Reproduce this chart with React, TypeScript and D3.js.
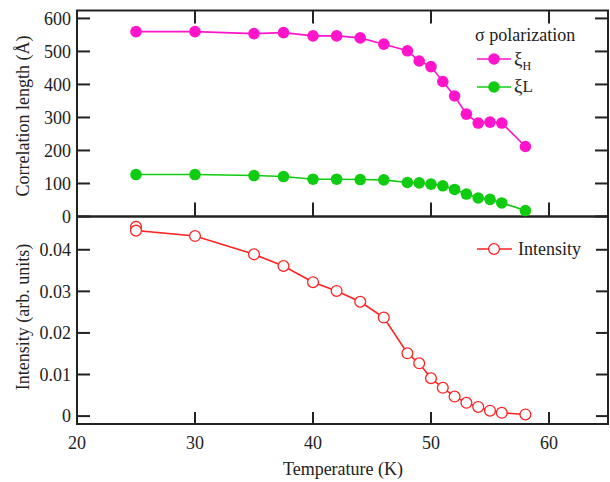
import React from 'react';
import * as d3 from 'd3';

// temperature (K) for the correlation length panel
const temperature = [25, 30, 35, 37.5, 40, 42, 44, 46, 48, 49, 50, 51, 52, 53, 54, 55, 56, 58];
const xiH = [560, 560, 554, 557, 547, 547, 541, 522, 502, 471, 454, 409, 365, 310, 283, 286, 283, 212];
const xiL = [127, 127, 124, 121, 113, 113, 112, 111, 103, 102, 98, 93, 82, 68, 56, 52, 41, 18];

// intensity panel has two points at 25 K
const intensityT = [25, 25, 30, 35, 37.5, 40, 42, 44, 46, 48, 49, 50, 51, 52, 53, 54, 55, 56, 58];
const intensity = [0.0455, 0.0446, 0.0433, 0.0389, 0.0361, 0.0322, 0.0301, 0.0275, 0.0237, 0.0151, 0.0127, 0.0091, 0.0068, 0.0047, 0.0032, 0.0022, 0.0013, 0.0008, 0.0004];

const xTicks = [20, 30, 40, 50, 60];
const corrTicks = [0, 100, 200, 300, 400, 500, 600];
const intTicks = [0, 0.01, 0.02, 0.03, 0.04];
const intTickLabels = ['0', '0.01', '0.02', '0.03', '0.04'];

const PINK = '#ff14cc';
const GREEN = '#10cc10';
const RED = '#ff2222';
const INK = '#222';
const FONT = '"Liberation Serif", "Times New Roman", serif';

const left = 77;
const right = 608;
const top = 10.5;
const mid = 216.5;
const bottom = 424;

const App = () => {
  const x = d3.scaleLinear().domain([20, 65]).range([left, right]);
  const yTop = d3.scaleLinear().domain([0, 624]).range([mid, top]);
  const yBot = d3.scaleLinear().domain([-0.0019, 0.048]).range([bottom, mid]);

  const lineH = d3.line<number>().x((d, i) => x(temperature[i])).y((d) => yTop(d));
  const lineInt = d3.line<number>().x((d, i) => x(intensityT[i])).y((d) => yBot(d));

  const xInner = xTicks.filter((t) => t > 20);

  return (
    <svg width={610} height={482} style={{ position: 'absolute', left: 0, top: 0, background: '#fff' }} fontFamily={FONT}>
      {/* frames */}
      <rect x={left} y={top} width={right - left} height={mid - top} fill="none" stroke={INK} strokeWidth={2} />
      <rect x={left} y={mid} width={right - left} height={bottom - mid} fill="none" stroke={INK} strokeWidth={2} />

      {/* top panel ticks */}
      {corrTicks.map((t) => (
        <g key={'ct' + t}>
          <line x1={left} x2={left + 13} y1={yTop(t)} y2={yTop(t)} stroke={INK} strokeWidth={2} />
          <line x1={right} x2={right - 13} y1={yTop(t)} y2={yTop(t)} stroke={INK} strokeWidth={2} />
          <text x={left - 6} y={yTop(t)} dy="0.35em" textAnchor="end" fontSize={18} fill={INK}>{t}</text>
        </g>
      ))}
      {xInner.map((t) => (
        <g key={'xt' + t}>
          <line x1={x(t)} x2={x(t)} y1={top} y2={top + 13} stroke={INK} strokeWidth={2} />
          <line x1={x(t)} x2={x(t)} y1={mid} y2={mid - 14} stroke={INK} strokeWidth={2} />
          <line x1={x(t)} x2={x(t)} y1={bottom} y2={bottom - 12} stroke={INK} strokeWidth={2} />
        </g>
      ))}

      {/* bottom panel ticks */}
      {intTicks.map((t, i) => (
        <g key={'it' + t}>
          <line x1={left} x2={left + 13} y1={yBot(t)} y2={yBot(t)} stroke={INK} strokeWidth={2} />
          <line x1={right} x2={right - 12} y1={yBot(t)} y2={yBot(t)} stroke={INK} strokeWidth={2} />
          <text x={left - 6} y={yBot(t)} dy="0.35em" textAnchor="end" fontSize={18} fill={INK}>{intTickLabels[i]}</text>
        </g>
      ))}
      {xTicks.map((t) => (
        <text key={'xl' + t} x={x(t)} y={bottom + 25} textAnchor="middle" fontSize={18} fill={INK}>{t}</text>
      ))}

      {/* axis titles */}
      <text transform={`translate(29,116) rotate(-90)`} textAnchor="middle" fontSize={18} fill={INK}>Correlation length (Å)</text>
      <text transform={`translate(29,317) rotate(-90)`} textAnchor="middle" fontSize={18} fill={INK}>Intensity (arb. units)</text>
      <text x={343} y={475} textAnchor="middle" fontSize={18} fill={INK}>Temperature (K)</text>

      {/* correlation lengths */}
      <path d={lineH(xiH) || ''} fill="none" stroke={PINK} strokeWidth={1.6} />
      <path d={lineH(xiL) || ''} fill="none" stroke={GREEN} strokeWidth={1.6} />
      {xiH.map((v, i) => (
        <circle key={'h' + i} cx={x(temperature[i])} cy={yTop(v)} r={5.8} fill={PINK} />
      ))}
      {xiL.map((v, i) => (
        <circle key={'l' + i} cx={x(temperature[i])} cy={yTop(v)} r={5.8} fill={GREEN} />
      ))}

      {/* intensity */}
      <path d={lineInt(intensity) || ''} fill="none" stroke={RED} strokeWidth={1.6} />
      {intensity.map((v, i) => (
        <circle key={'i' + i} cx={x(intensityT[i])} cy={yBot(v)} r={5.4} fill="#fff" stroke={RED} strokeWidth={1.3} />
      ))}

      {/* legends */}
      <text x={475} y={41} fontSize={18} fill={INK}>σ polarization</text>
      <line x1={477} x2={511} y1={59} y2={59} stroke={PINK} strokeWidth={1.6} />
      <circle cx={494} cy={59} r={5.8} fill={PINK} />
      <text x={514} y={65} fontSize={19} fill={INK}>ξ<tspan fontSize={12} dy={5}>H</tspan></text>
      <line x1={477} x2={511} y1={87} y2={87} stroke={GREEN} strokeWidth={1.6} />
      <circle cx={494} cy={87} r={5.8} fill={GREEN} />
      <text x={514} y={92} fontSize={19} fill={INK}>ξ<tspan fontSize={17}>L</tspan></text>

      <line x1={477} x2={512} y1={249} y2={249} stroke={RED} strokeWidth={1.6} />
      <circle cx={494} cy={249} r={5.4} fill="#fff" stroke={RED} strokeWidth={1.3} />
      <text x={518} y={255} fontSize={18} fill={INK}>Intensity</text>
    </svg>
  );
};

export default App;
